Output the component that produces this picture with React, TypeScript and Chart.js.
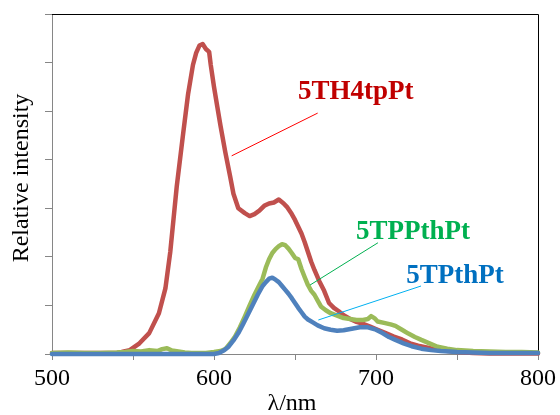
import React, { useEffect, useRef } from "react";
import { Chart, registerables } from "chart.js";

Chart.register(...registerables);

// 5TH4tpPt (red)
const redNm = [500, 520, 540, 543, 548, 554, 560, 566, 570, 573, 577, 581, 584, 587, 589, 591, 593, 595, 597, 598, 600, 602, 604, 607, 610, 612, 615, 619, 622, 625, 628, 631, 634, 637, 640, 643, 645, 648, 650, 652, 654, 656, 658, 660, 662, 665, 668, 671, 674, 677, 680, 684, 688, 692, 696, 701, 706, 711, 716, 721, 726, 732, 737, 742, 750, 760, 770, 780, 790, 800];
const redVal = [0.02, 0.02, 0.02, 0.04, 0.08, 0.22, 0.43, 0.84, 1.35, 2.1, 3.45, 4.55, 5.35, 5.95, 6.2, 6.35, 6.38, 6.28, 6.22, 5.95, 5.5, 5.1, 4.7, 4.15, 3.65, 3.3, 3.0, 2.9, 2.84, 2.88, 2.95, 3.05, 3.1, 3.12, 3.18, 3.1, 3.03, 2.88, 2.76, 2.62, 2.48, 2.3, 2.1, 1.9, 1.73, 1.5, 1.3, 1.05, 0.95, 0.88, 0.8, 0.72, 0.66, 0.62, 0.57, 0.5, 0.43, 0.36, 0.3, 0.22, 0.17, 0.13, 0.09, 0.07, 0.04, 0.02, 0.01, 0.01, 0.01, 0.01];

// 5TPPthPt (green)
const greenNm = [500, 510, 520, 530, 540, 545, 550, 555, 560, 565, 568, 571, 574, 578, 582, 586, 590, 595, 600, 604, 607, 610, 613, 616, 619, 622, 625, 628, 630, 632, 634, 636, 638, 640, 642, 644, 646, 648, 650, 652, 654, 656, 658, 660, 662, 664, 666, 669, 672, 676, 680, 684, 688, 692, 695, 697, 699, 701, 705, 709, 712, 716, 720, 724, 728, 733, 738, 744, 750, 760, 770, 780, 790, 800];
const greenVal = [0.02, 0.03, 0.02, 0.02, 0.03, 0.04, 0.06, 0.05, 0.08, 0.06, 0.1, 0.12, 0.07, 0.05, 0.03, 0.02, 0.02, 0.02, 0.04, 0.06, 0.1, 0.22, 0.36, 0.55, 0.77, 1.0, 1.22, 1.42, 1.55, 1.78, 1.95, 2.08, 2.16, 2.22, 2.26, 2.24, 2.17, 2.08, 1.98, 1.95, 1.75, 1.58, 1.42, 1.3, 1.22, 1.1, 0.98, 0.9, 0.84, 0.79, 0.74, 0.72, 0.7, 0.7, 0.72, 0.78, 0.74, 0.67, 0.64, 0.61, 0.58, 0.5, 0.42, 0.35, 0.29, 0.22, 0.15, 0.11, 0.08, 0.06, 0.05, 0.04, 0.04, 0.03];

// 5TPthPt (blue)
const blueNm = [500, 550, 590, 600, 603, 606, 609, 612, 615, 618, 621, 624, 627, 630, 632, 634, 636, 638, 640, 642, 644, 646, 648, 650, 652, 654, 656, 658, 661, 664, 668, 672, 676, 680, 685, 690, 695, 700, 704, 708, 712, 717, 722, 728, 734, 740, 750, 760, 770, 780, 800];
const blueVal = [0.0, 0.0, 0.0, 0.0, 0.02, 0.07, 0.15, 0.28, 0.43, 0.62, 0.82, 1.02, 1.22, 1.4, 1.48, 1.55, 1.57, 1.53, 1.48, 1.4, 1.32, 1.24, 1.15, 1.05, 0.95, 0.86, 0.77, 0.71, 0.65, 0.59, 0.53, 0.5, 0.48, 0.49, 0.52, 0.55, 0.55, 0.5, 0.43, 0.35, 0.29, 0.22, 0.16, 0.11, 0.08, 0.06, 0.04, 0.03, 0.02, 0.02, 0.02];

const seriesNames = ["5TH4tpPt", "5TPPthPt", "5TPthPt"];
const xTicks = [500, 600, 700, 800];

// annotations in data coordinates: [label x, label y, line from x, from y, line to x, to y]
const labelPos = [
  [687.5, 5.4, 610.9, 4.08, 664, 4.96],
  [722.9, 2.52, 659.3, 1.42, 701.2, 2.29],
  [748.8, 1.61, 664.4, 0.7, 727.8, 1.4],
];
const labelColors = ["#C00000", "#00B050", "#0070C0"];
const leaderColors = ["#FF0000", "#00B050", "#00B0F0"];

const SERIF = "'Times New Roman', 'Liberation Serif', serif";

function pts(xs: number[], ys: number[]) {
  return xs.map((x, i) => ({ x, y: ys[i] }));
}

const decorPlugin = {
  id: "decor",
  beforeDatasetsDraw(chart: any) {
    const { ctx, chartArea } = chart;
    ctx.save();
    ctx.strokeStyle = "#000000";
    ctx.lineWidth = 1;
    ctx.beginPath();
    ctx.moveTo(chartArea.left, chartArea.top + 0.5);
    ctx.lineTo(chartArea.right + 0.5, chartArea.top + 0.5);
    ctx.lineTo(chartArea.right + 0.5, chartArea.bottom);
    ctx.stroke();
    ctx.restore();
  },
  afterDraw(chart: any) {
    const { ctx, chartArea, scales } = chart;
    const xs = scales.x;
    const ys = scales.y;
    ctx.save();
    labelPos.forEach((p, i) => {
      ctx.strokeStyle = leaderColors[i];
      ctx.lineWidth = 1;
      ctx.beginPath();
      ctx.moveTo(xs.getPixelForValue(p[2]), ys.getPixelForValue(p[3]));
      ctx.lineTo(xs.getPixelForValue(p[4]), ys.getPixelForValue(p[5]));
      ctx.stroke();
      ctx.fillStyle = labelColors[i];
      ctx.font = `bold 27px ${SERIF}`;
      ctx.textAlign = "center";
      ctx.textBaseline = "middle";
      ctx.fillText(seriesNames[i], xs.getPixelForValue(p[0]), ys.getPixelForValue(p[1]));
    });
    ctx.fillStyle = "#000000";
    ctx.font = `24px ${SERIF}`;
    ctx.textAlign = "center";
    ctx.textBaseline = "middle";
    ctx.fillText("λ/nm", (chartArea.left + chartArea.right) / 2 - 3, chartArea.bottom + 50);
    ctx.translate(chartArea.left - 30, (chartArea.top + chartArea.bottom) / 2 - 6);
    ctx.rotate(-Math.PI / 2);
    ctx.fillText("Relative intensity", 0, 0);
    ctx.restore();
  },
};

export default function App() {
  const ref = useRef<HTMLCanvasElement | null>(null);
  useEffect(() => {
    if (!ref.current) return;
    const chart = new Chart(ref.current, {
      type: "line",
      data: {
        datasets: [
          { label: seriesNames[0], data: pts(redNm, redVal), borderColor: "#C0504D", borderWidth: 4.5, pointRadius: 0, order: 3, clip: 4 },
          { label: seriesNames[1], data: pts(greenNm, greenVal), borderColor: "#9BBB59", borderWidth: 4.5, pointRadius: 0, order: 2, clip: 4 },
          { label: seriesNames[2], data: pts(blueNm, blueVal), borderColor: "#4F81BD", borderWidth: 4.5, pointRadius: 0, order: 1, clip: 4 },
        ],
      },
      options: {
        animation: false,
        responsive: true,
        maintainAspectRatio: false,
        layout: { padding: { left: 0, top: 14, right: 19, bottom: 0 } },
        plugins: { legend: { display: false }, tooltip: { enabled: false } },
        elements: { line: { tension: 0, borderJoinStyle: "round", borderCapStyle: "round" } },
        scales: {
          x: {
            type: "linear",
            min: 500,
            max: 800,
            ticks: {
              stepSize: 50,
              maxRotation: 0,
              autoSkip: false,
              color: "#000000",
              padding: 4,
              font: { family: SERIF, size: 24 },
              callback: (v: any) => (xTicks.includes(Number(v)) ? String(v) : ""),
            },
            grid: { drawOnChartArea: false, drawTicks: true, tickLength: 6, color: "#868686" },
            border: { color: "#868686", width: 1 },
            afterFit: (s: any) => {
              s.height = 61;
            },
          },
          y: {
            min: 0,
            max: 7,
            ticks: { stepSize: 1, display: false },
            grid: { drawOnChartArea: false, drawTicks: true, tickLength: 7, color: "#868686" },
            border: { color: "#868686", width: 1 },
            afterFit: (s: any) => {
              s.width = 52;
            },
          },
        },
      },
      plugins: [decorPlugin],
    });
    return () => chart.destroy();
  }, []);
  return (
    <div style={{ position: "fixed", left: 0, top: 0, width: 560, height: 415, background: "#ffffff" }}>
      <canvas ref={ref} />
    </div>
  );
}
